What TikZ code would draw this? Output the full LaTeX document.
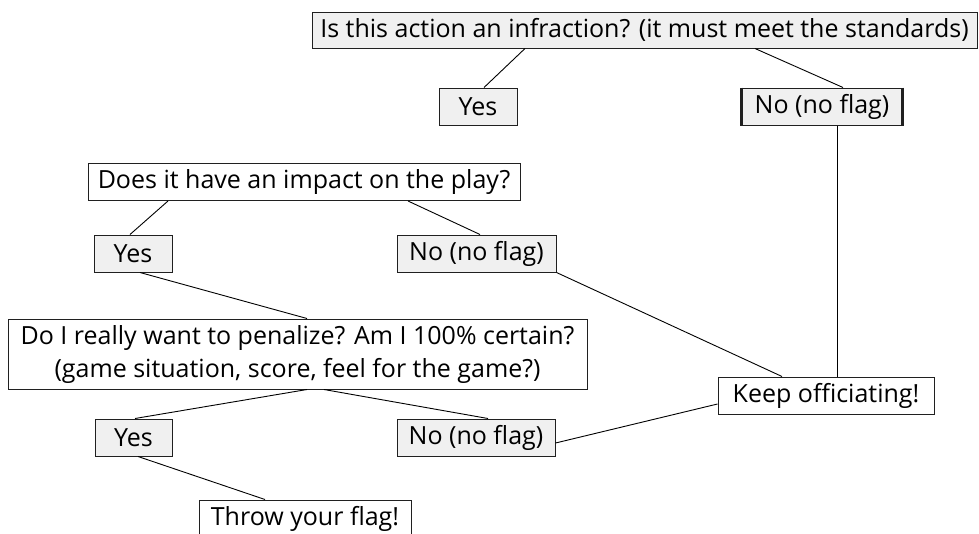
\documentclass[tikz,border=0pt]{standalone}
\usepackage{fontspec}
\setmainfont{Open Sans}
\definecolor{boxgray}{HTML}{F0F0F0}
\definecolor{edge}{HTML}{202020}
\tikzset{
  base/.style={draw=edge, line width=1pt, inner sep=0pt, align=center,
    font=\fontsize{25}{33}\selectfont, text=black},
  gbox/.style={base, fill=boxgray},
  wbox/.style={base, fill=white},
  conn/.style={draw=black, line width=0.9pt},
}
\begin{document}
\begin{tikzpicture}[x=1pt,y=-1pt]
\useasboundingbox (0,0) rectangle (979,533);
\clip (0,0) rectangle (979,533);
\fill[white] (0,0) rectangle (979,533);

\node[gbox, minimum width=665pt, minimum height=36pt] (q1) at (644.5,30) {Is this action an infraction? (it must meet the standards)};
\node[gbox, minimum width=78pt, minimum height=37pt] (y1) at (478,106.5) {Yes};
\node[gbox, minimum width=160pt, minimum height=37pt] (n1) at (822,106.5) {No (no flag)};
\draw[edge, line width=2.5pt] (n1.north west) -- (n1.south west);
\draw[edge, line width=2.5pt] (n1.north east) -- (n1.south east);

\node[wbox, minimum width=432pt, minimum height=37pt] (q2) at (304,182) {Does it have an impact on the play?};
\node[gbox, minimum width=78pt, minimum height=37pt] (y2) at (133,253.5) {Yes};
\node[gbox, minimum width=159pt, minimum height=37pt] (n2) at (476.5,253.5) {No (no flag)};

\node[wbox, minimum width=579pt, minimum height=70pt] (q3) at (297.5,354) {Do I really want to penalize? Am I 100\% certain?\\(game situation, score, feel for the game?)};
\node[gbox, minimum width=77pt, minimum height=37pt] (y3) at (133.5,437.5) {Yes};
\node[gbox, minimum width=158pt, minimum height=37pt] (n3) at (476,437.5) {No (no flag)};

\node[wbox, minimum width=216pt, minimum height=37pt] (keep) at (826,395.5) {Keep officiating!};
\node[wbox, minimum width=212pt, minimum height=37pt] (thr) at (305,518.5) {Throw your flag!};

\draw[conn] ([xshift=-119.5pt]q1.south) -- ([xshift=6pt]y1.north);
\draw[conn] ([xshift=110.5pt]q1.south) -- ([xshift=21pt]n1.north);
\draw[conn] ([xshift=15pt]n1.south) -- ([xshift=11pt]keep.north);
\draw[conn] ([xshift=-136pt]q2.south) -- ([xshift=-3pt]y2.north);
\draw[conn] ([xshift=104pt]q2.south) -- ([xshift=3.5pt]n2.north);
\draw[conn] ([xshift=7pt]y2.south) -- ([xshift=9.5pt]q3.north);
\draw[conn] (n2.south east) -- ([xshift=-44pt]keep.north);
\draw[conn] ([xshift=9.5pt]q3.south) -- ([xshift=1.5pt]y3.north);
\draw[conn] ([xshift=26.5pt]q3.south) -- ([xshift=12pt]n3.north);
\draw[conn] ([xshift=4.5pt]y3.south) -- ([xshift=-40pt]thr.north);
\draw[conn] ([yshift=-5.5pt]n3.east) -- ([yshift=-8.5pt]keep.west);
\end{tikzpicture}
\end{document}
